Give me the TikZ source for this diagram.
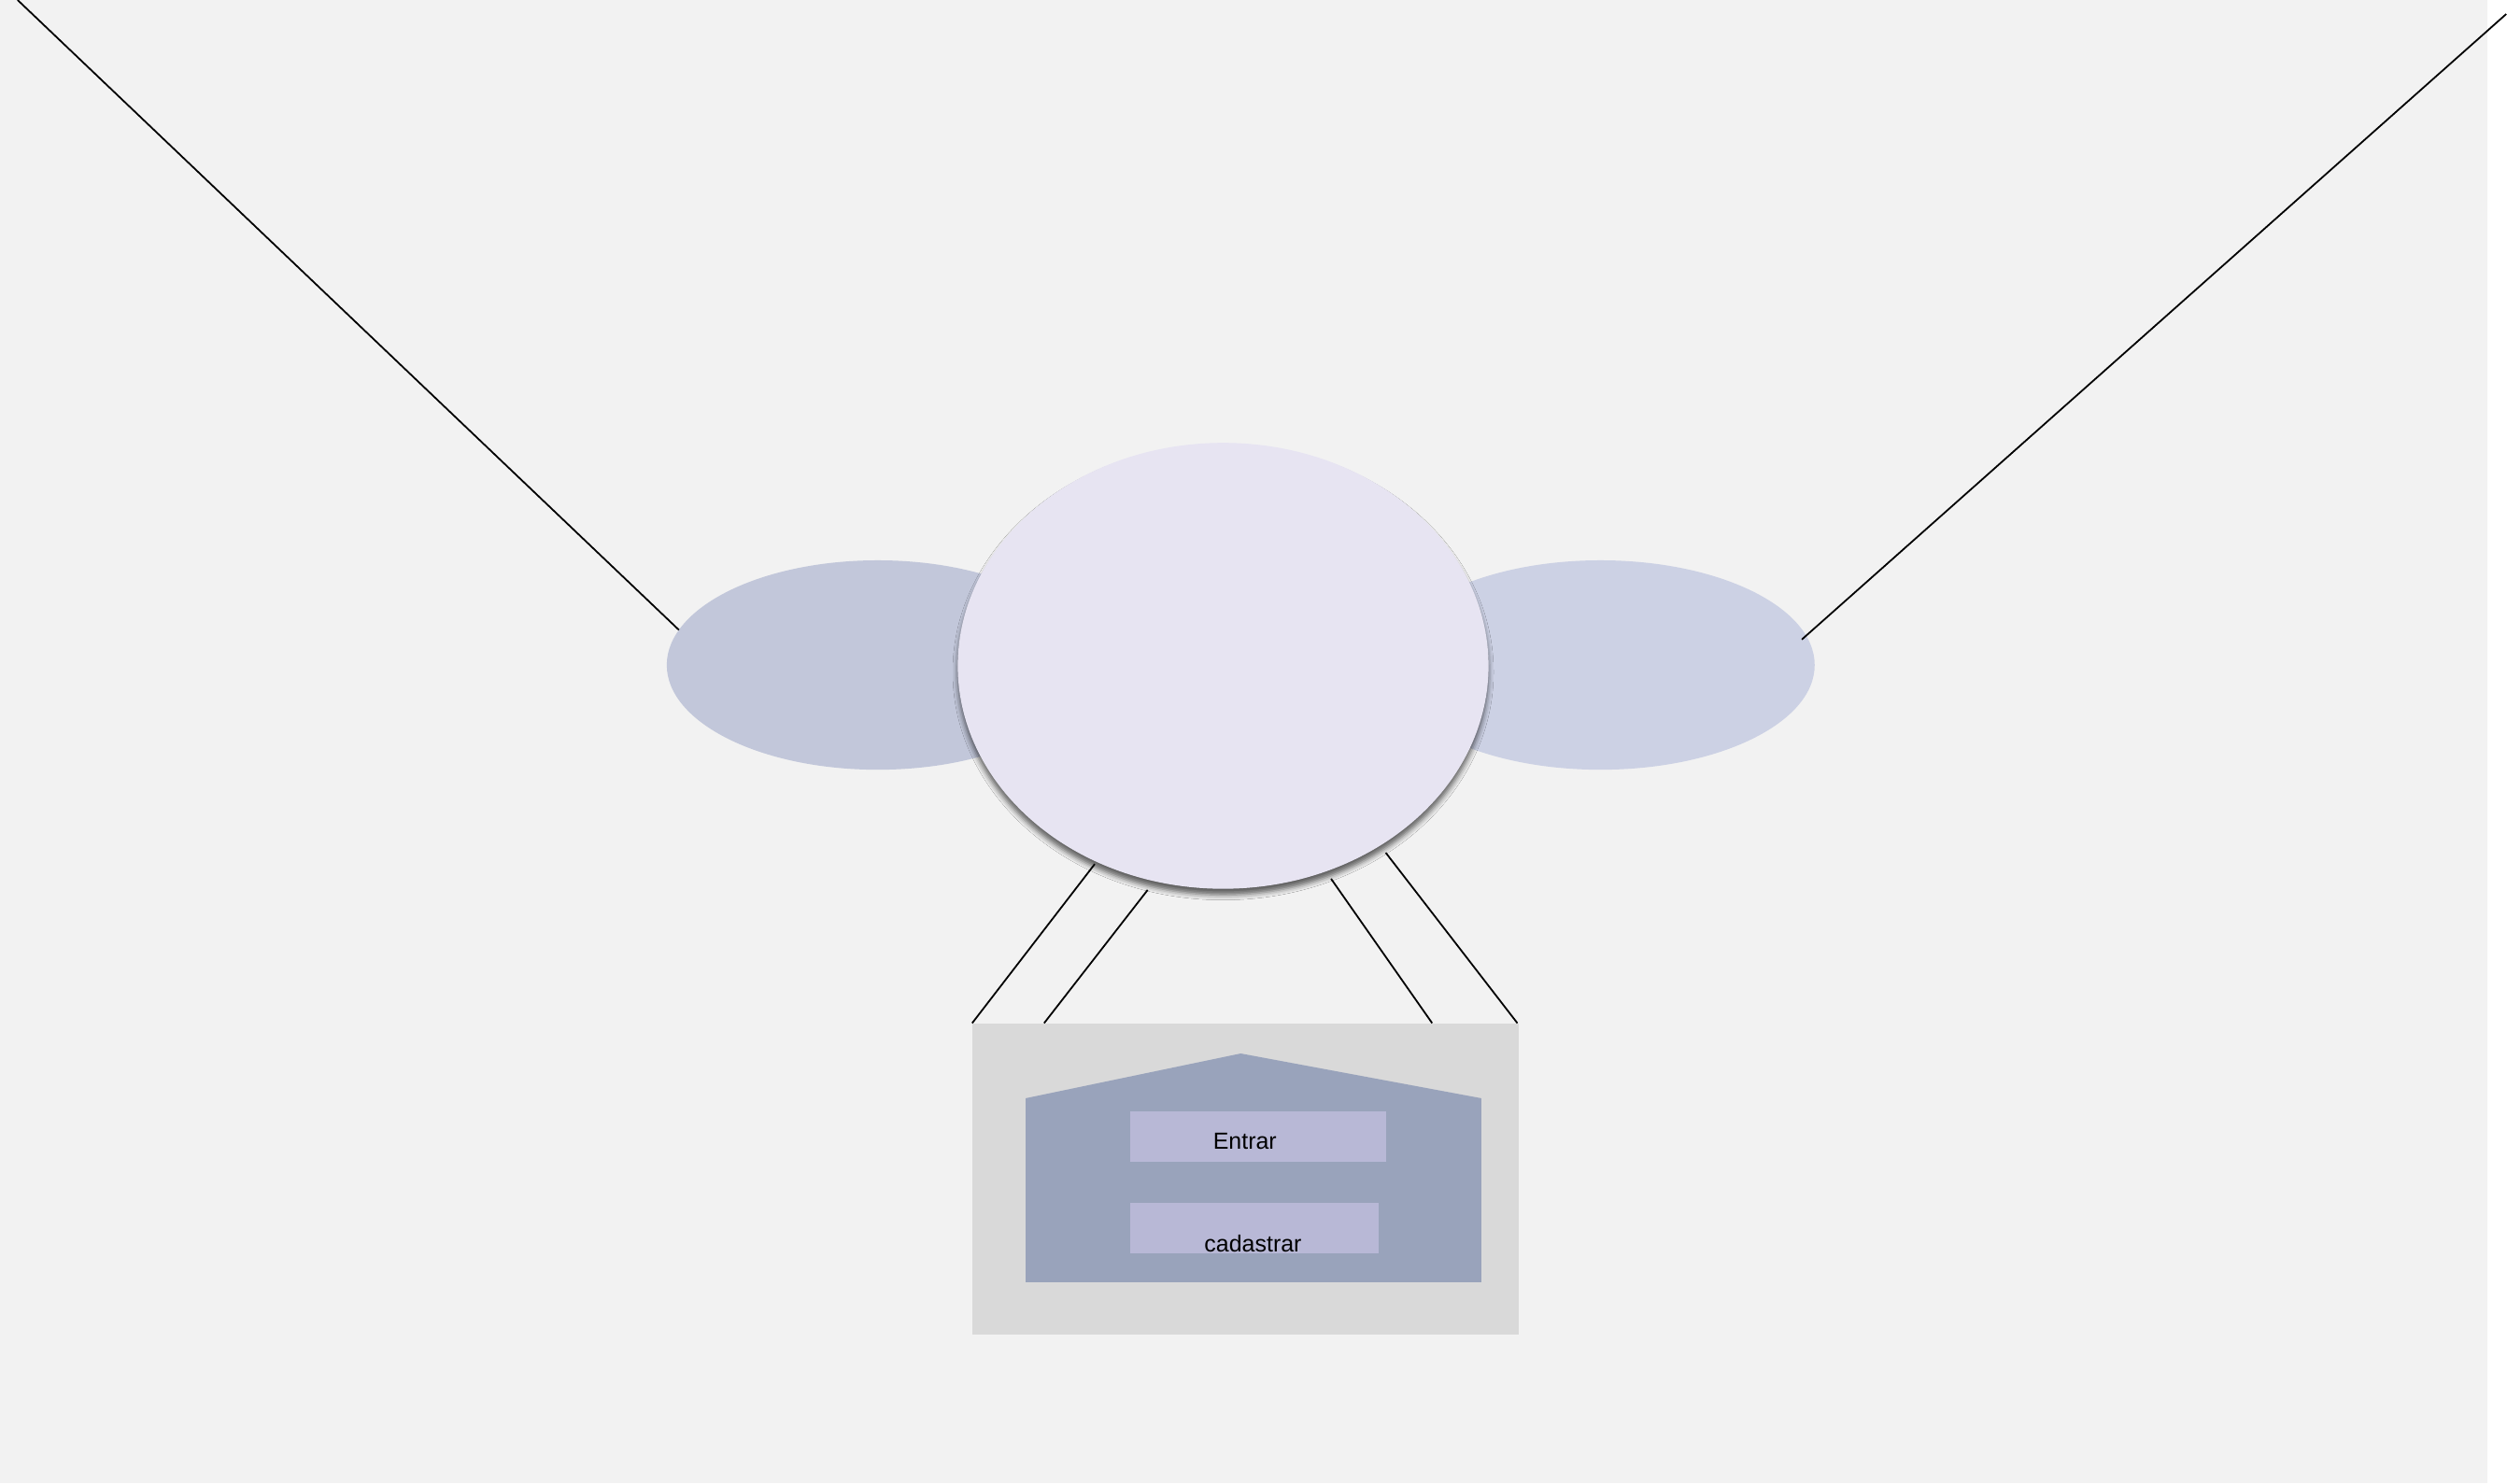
\documentclass[tikz,border=0pt]{standalone}
\usepackage{fontspec}
\setmainfont{Liberation Sans}
\usetikzlibrary{shapes.geometric,shadows.blur,calc}
\definecolor{bgc}{HTML}{F2F2F2}
\definecolor{elL}{HTML}{C2C7DA}
\definecolor{elR}{HTML}{CCD1E4}
\definecolor{hubc}{HTML}{E7E4F2}
\definecolor{panelc}{HTML}{D9D9D9}
\definecolor{housec}{HTML}{99A3BB}
\definecolor{btnc}{HTML}{B8B8D6}
\tikzset{
  blob/.style={ellipse, inner sep=0pt, outer sep=0pt, draw=none},
  flatbox/.style={rectangle, inner sep=0pt, outer sep=0pt, draw=none},
  wire/.style={draw=black, line width=0.6pt},
  btntext/.style={inner sep=0pt, anchor=base, font=\fontsize{8.3}{10}\selectfont, text=black}
}
\begin{document}
\begin{tikzpicture}[x=0.02cm,y=-0.02cm]
\useasboundingbox (0,0) rectangle (1568,928);
\fill[white] (0,0) rectangle (1568,928);
\fill[bgc] (0,0) rectangle (1556,928);

% side ellipses
\node[blob, fill=elL, minimum width=5.28cm, minimum height=2.62cm] (leftell) at (549,416) {};
\node[blob, fill=elR, minimum width=5.36cm, minimum height=2.62cm] (rightell) at (1001,416) {};
% central ellipse
\node[blob, fill=hubc, minimum width=6.64cm, minimum height=5.58cm,
  blur shadow={shadow xshift=0pt, shadow yshift=-2.2pt, shadow blur radius=1.8pt, shadow opacity=60}] (hub) at (765,416.5) {};

% bottom panel
\node[flatbox, fill=panelc, minimum width=6.84cm, minimum height=3.9cm] (panel) at (779,737.5) {};
\fill[housec] (641.5,687) -- (776,659) -- (926.5,687) -- (926.5,802) -- (641.5,802) -- cycle;
\node[flatbox, fill=btnc, minimum width=3.2cm, minimum height=0.634cm] (btnA) at (787,710.9) {};
\node[flatbox, fill=btnc, minimum width=3.1cm, minimum height=0.63cm] (btnB) at (784.5,768.3) {};
\node[btntext] (txtA) at (778.6,718.7) {Entrar};
\node[btntext] (txtB) at (783.7,783) {cadastrar};

% connectors
\coordinate (tl) at (11,0);
\coordinate (tr) at (1567.5,8.8);
\coordinate (h1) at (684.7,540.5);
\coordinate (h2) at (717.8,556.7);
\coordinate (h3) at (832.5,549.7);
\coordinate (h4) at (866.7,533.4);
\draw[wire] (leftell.170.5) -- (tl);
\draw[wire] ($(rightell.7)+(-4,0)$) -- (tr);
\draw[wire] (h1) -- (panel.north west);
\draw[wire] (h2) -- ($(panel.north west)+(45,0)$);
\draw[wire] (h3) -- ($(panel.north west)+(287.7,0)$);
\draw[wire] (h4) -- ($(panel.north west)+(341,0)$);
\end{tikzpicture}
\end{document}
